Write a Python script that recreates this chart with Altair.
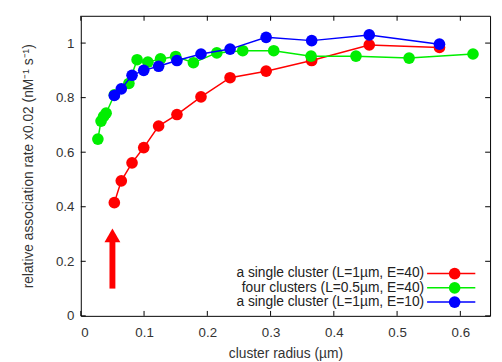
import altair as alt
import pandas as pd

# ---- data ----
series_names = [
    "a single cluster (L=1\u00b5m, E=40)",
    "four clusters (L=0.5\u00b5m, E=40)",
    "a single cluster (L=1\u00b5m, E=10)",
]
series_colors = ["#ff0000", "#00ee00", "#0000ff"]

red_x = [0.053, 0.064, 0.081, 0.0995, 0.123, 0.152, 0.190, 0.236, 0.293, 0.365, 0.456, 0.567]
red_y = [0.415, 0.495, 0.561, 0.617, 0.696, 0.738, 0.803, 0.873, 0.897, 0.936, 0.993, 0.984]

green_x = [0.027, 0.032, 0.036, 0.040, 0.053, 0.076, 0.089, 0.106, 0.126, 0.150, 0.178,
           0.215, 0.256, 0.305, 0.364, 0.435, 0.519, 0.620]
green_y = [0.648, 0.714, 0.731, 0.743, 0.810, 0.852, 0.939, 0.930, 0.942, 0.951, 0.928,
           0.964, 0.972, 0.972, 0.952, 0.952, 0.945, 0.960]

blue_x = [0.053, 0.064, 0.081, 0.0995, 0.123, 0.152, 0.190, 0.236, 0.293, 0.365, 0.456, 0.567]
blue_y = [0.808, 0.832, 0.882, 0.900, 0.915, 0.936, 0.960, 0.978, 1.021, 1.009, 1.030, 0.996]

x_ticks = [0, 0.1, 0.2, 0.3, 0.4, 0.5, 0.6]
y_ticks = [0, 0.2, 0.4, 0.6, 0.8, 1.0]

arrow_x = [0.05]
arrow_shaft = [0.10, 0.28]
arrow_tip = [0.295]

W, H = 416, 305
X_DOMAIN = [0, 0.647]
Y_DOMAIN = [0, 1.1]
FONT = "Liberation Sans"
TICK_FS = 13.5
TEXT_FS = 14

xs = alt.Scale(domain=X_DOMAIN, nice=False, zero=False)
ys = alt.Scale(domain=Y_DOMAIN, nice=False, zero=False)

xaxis = alt.Axis(values=x_ticks, ticks=False, domain=False, grid=False, labelPadding=10,
                 labelFont=FONT, labelFontSize=TICK_FS, labelColor="#333333",
                 title="cluster radius (\u00b5m)", titleFont=FONT, titleFontSize=TEXT_FS,
                 titleFontWeight="normal", titleColor="#333333", titlePadding=8,
                 labelExpr="datum.value == 0 ? '0' : format(datum.value, '.1f')")
yaxis = alt.Axis(values=y_ticks, ticks=False, domain=False, grid=False, labelPadding=7,
                 labelFont=FONT, labelFontSize=TICK_FS, labelColor="#333333",
                 title="relative association rate x0.02 (nM\u207b\u00b9 s\u207b\u00b9)",
                 titleFont=FONT, titleFontSize=TEXT_FS, titleFontWeight="normal",
                 titleColor="#333333", titlePadding=20,
                 labelExpr="datum.value == 0 ? '0' : datum.value == 1 ? '1' : format(datum.value, '.1f')")

layers = []

# base layer carrying the axes
base = alt.Chart(pd.DataFrame({"x": red_x, "y": red_y})).mark_point(opacity=0).encode(
    x=alt.X("x:Q", scale=xs, axis=xaxis),
    y=alt.Y("y:Q", scale=ys, axis=yaxis),
)
layers.append(base)

# tick marks (inward, mirrored on all four sides)
xt = pd.DataFrame({"t": x_ticks})
yt = pd.DataFrame({"t": y_ticks})
tick_style = dict(color="#000000", strokeWidth=1)
layers.append(alt.Chart(xt).mark_rule(**tick_style).encode(
    x=alt.X("t:Q", scale=xs), y=alt.value(H), y2=alt.value(H - 5)))
layers.append(alt.Chart(xt).mark_rule(**tick_style).encode(
    x=alt.X("t:Q", scale=xs), y=alt.value(0), y2=alt.value(5)))
layers.append(alt.Chart(yt).mark_rule(**tick_style).encode(
    y=alt.Y("t:Q", scale=ys), x=alt.value(0), x2=alt.value(5)))
layers.append(alt.Chart(yt).mark_rule(**tick_style).encode(
    y=alt.Y("t:Q", scale=ys), x=alt.value(W), x2=alt.value(W - 5)))

# series
all_x = [red_x, green_x, blue_x]
all_y = [red_y, green_y, blue_y]
for name, col, sx, sy in zip(series_names, series_colors, all_x, all_y):
    df = pd.DataFrame({"x": sx, "y": sy, "s": name})
    layers.append(alt.Chart(df).mark_line(color=col, strokeWidth=1.5).encode(
        x=alt.X("x:Q", scale=xs), y=alt.Y("y:Q", scale=ys), order="x:Q"))
    layers.append(alt.Chart(df).mark_circle(color=col, size=140, opacity=1).encode(
        x=alt.X("x:Q", scale=xs), y=alt.Y("y:Q", scale=ys)))

# red arrow annotation
adf = pd.DataFrame({"x": arrow_x, "y": [arrow_shaft[0]], "y2": [arrow_shaft[1]]})
layers.append(alt.Chart(adf).mark_rule(color="#ff0000", strokeWidth=6).encode(
    x=alt.X("x:Q", scale=xs), y=alt.Y("y:Q", scale=ys), y2="y2:Q"))
tdf = pd.DataFrame({"x": arrow_x, "y": arrow_tip})
layers.append(alt.Chart(tdf).mark_point(shape="triangle-up", filled=True, color="#ff0000",
                                        size=260, opacity=1).encode(
    x=alt.X("x:Q", scale=xs), y=alt.Y("y:Q", scale=ys)))

# manual legend (label left of symbol, gnuplot style)
leg_rows = [262, 276.5, 291]
for name, col, ry in zip(series_names, series_colors, leg_rows):
    ldf = pd.DataFrame({"s": [name]})
    layers.append(alt.Chart(ldf).mark_text(align="right", baseline="middle", font=FONT,
                                           fontSize=TEXT_FS, color="#222222").encode(
        text="s:N", x=alt.value(349), y=alt.value(ry)))
    layers.append(alt.Chart(ldf).mark_rule(color=col, strokeWidth=1.5).encode(
        x=alt.value(352), x2=alt.value(401), y=alt.value(ry)))
    layers.append(alt.Chart(ldf).mark_circle(color=col, size=140, opacity=1).encode(
        x=alt.value(380), y=alt.value(ry)))

chart = alt.layer(*layers).properties(
    width=W, height=H,
    autosize=alt.AutoSizeParams(type="none"),
    padding={"left": 74, "top": 5, "right": 4, "bottom": 46},
).configure_view(stroke="#000000", strokeWidth=1)

chart.save("out.html", embed_options={"renderer": "svg", "actions": False})
